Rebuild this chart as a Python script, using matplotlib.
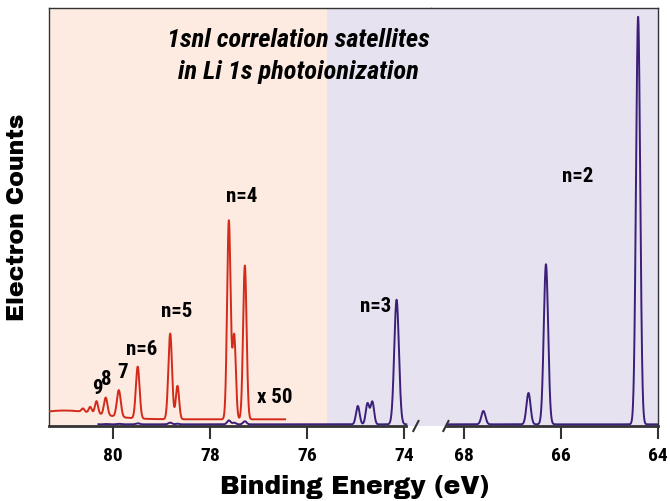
import numpy as np
import matplotlib
matplotlib.use("Agg")
import matplotlib.pyplot as plt

# ---- data: peaks (binding energy eV, height, width sigma eV)
# red trace (x50 magnified), left panel
red_pos = [77.61, 77.50, 77.28, 78.82, 78.67, 79.49, 79.88, 80.15, 80.34, 80.47, 80.62]
red_hgt = [0.475, 0.200, 0.368, 0.205, 0.080, 0.124, 0.064, 0.042, 0.030, 0.014, 0.008]
red_sig = [0.036, 0.034, 0.036, 0.038, 0.034, 0.038, 0.040, 0.036, 0.032, 0.030, 0.030]
red_base = 0.016
red_range = (81.32, 76.45)
# broad unresolved series limit at high binding energy
red_tail_pos, red_tail_hgt, red_tail_sig = 81.0, 0.021, 0.70

# blue trace (x1), both panels
blue_pos = [64.41, 66.31, 66.67, 67.60, 74.15, 74.65, 74.75, 74.95]
blue_hgt = [0.975, 0.383, 0.075, 0.032, 0.298, 0.054, 0.050, 0.044]
blue_sig = [0.043, 0.045, 0.042, 0.042, 0.048, 0.036, 0.036, 0.037]
red_scale = 50.0

left_lim = (81.32, 73.44)
right_lim = (68.68, 64.0)
left_ticks = [80, 78, 76, 74]
right_ticks = [68, 66, 64]
bg_split = 75.59

labels = [("n=4", 77.34, 0.549), ("n=5", 78.68, 0.273), ("n=6", 79.40, 0.184),
          ("7", 79.81, 0.127), ("8", 80.13, 0.112), ("9", 80.33, 0.089),
          ("x 50", 76.66, 0.067), ("n=3", 74.58, 0.285)]
right_labels = [("n=2", 65.66, 0.596)]
title = "1snl correlation satellites\nin Li 1s photoionization"

# ---- style
RED = "#d42a1a"
BLUE = "#3b1f78"
SALMON = "#fdeae0"
LAV = "#e6e2f0"
NARROW = ["Roboto Condensed", "Asap Condensed", "DejaVu Sans"]
HEAVY = ["Archivo Black", "Liberation Sans", "DejaVu Sans"]

def peaks(x, pos, hgt, sig):
    y = np.zeros_like(x)
    for p, h, s in zip(pos, hgt, sig):
        y += h * np.exp(-0.5 * ((x - p) / s) ** 2)
    return y

W, H = 670, 501
fig = plt.figure(figsize=(W / 100, H / 100), dpi=100)
x0, xm, x1 = 49, 431, 658
yb, yt = 426, 8
axL = fig.add_axes([x0 / W, (H - yb) / H, (xm - x0) / W, (yb - yt) / H])
axR = fig.add_axes([xm / W, (H - yb) / H, (x1 - xm) / W, (yb - yt) / H], sharey=axL)

for ax, lim in ((axL, left_lim), (axR, right_lim)):
    ax.set_xlim(*lim)
    ax.set_ylim(0, 1)
    ax.set_yticks([])
    ax.set_facecolor(LAV)
    for s in ("top", "left", "right"):
        ax.spines[s].set_linewidth(1.0)
        ax.spines[s].set_color("#333333")
    ax.spines["bottom"].set_linewidth(2.0)
    ax.spines["bottom"].set_color("#333333")
    ax.tick_params(axis="x", direction="out", length=9, width=1.5, color="#333333", pad=6)

axL.spines["right"].set_visible(False)
axR.spines["left"].set_visible(False)
axL.spines["bottom"].set_bounds(left_lim[0], 73.95)
axR.spines["bottom"].set_bounds(68.35, right_lim[1])
axL.set_xticks(left_ticks)
axR.set_xticks(right_ticks)
for ax in (axL, axR):
    for t in ax.get_xticklabels():
        t.set_fontfamily(NARROW)
        t.set_fontweight("bold")
        t.set_fontsize(14)

axL.axvspan(left_lim[0], bg_split, color=SALMON, zorder=0, lw=0)

# blue curves
xl = np.linspace(80.3, 73.95, 4000)
yl = peaks(xl, blue_pos, blue_hgt, blue_sig) + \
     peaks(xl, red_pos, [h / red_scale for h in red_hgt], red_sig)
axL.plot(xl, yl + 0.004, color=BLUE, lw=1.4, zorder=3)
xr = np.linspace(68.35, 64.0, 4000)
yr = peaks(xr, blue_pos, blue_hgt, blue_sig)
axR.plot(xr, yr + 0.004, color=BLUE, lw=1.4, zorder=3)

# red curve
xred = np.linspace(red_range[0], red_range[1], 4000)
yred = red_base + peaks(xred, red_pos, red_hgt, red_sig) + \
       peaks(xred, [red_tail_pos], [red_tail_hgt], [red_tail_sig])
axL.plot(xred, yred, color=RED, lw=1.4, zorder=4)

# break marks
fig.add_artist(plt.Line2D([413.3 / W, 418.5 / W], [(H - 431) / H, (H - 421) / H],
                          color="#333333", lw=1.5))
fig.add_artist(plt.Line2D([443.3 / W, 448.5 / W], [(H - 431) / H, (H - 421) / H],
                          color="#333333", lw=1.5))

# annotations
for txt, x, y in labels:
    axL.text(x, y, txt, ha="center", va="center", fontsize=15, fontweight="bold",
             family=NARROW, zorder=5)
for txt, x, y in right_labels:
    axR.text(x, y, txt, ha="center", va="center", fontsize=15, fontweight="bold",
             family=NARROW, zorder=5)

fig.text(298 / W, 1 - 56 / H, title, ha="center", va="center",
         fontsize=19, fontweight="bold", style="italic",
         family=NARROW, linespacing=1.4, zorder=5)

fig.text(355 / W, 1 - 487 / H, "Binding Energy (eV)", ha="center", va="center",
         fontsize=18, fontweight="bold", family=HEAVY)
fig.text(18 / W, 1 - 217 / H, "Electron Counts", ha="center", va="center",
         rotation=90, fontsize=17, fontweight="bold", family=HEAVY)

fig.savefig("out.png", dpi=100)
